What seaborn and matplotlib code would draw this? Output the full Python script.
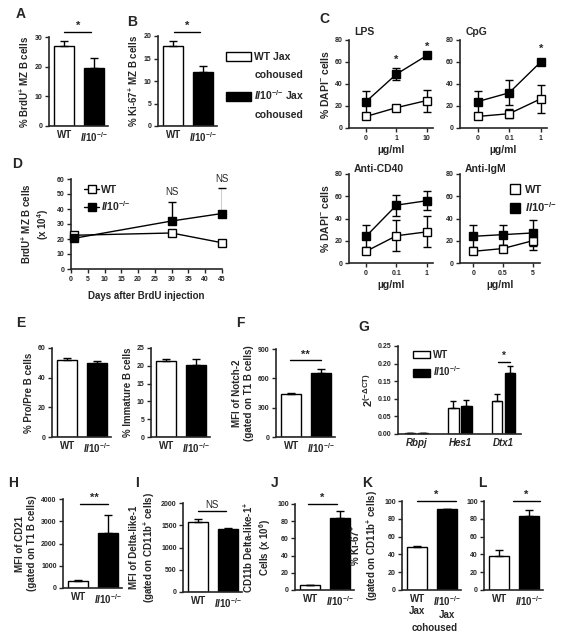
import seaborn as sns
import matplotlib.pyplot as plt
import numpy as np
import pandas as pd
from matplotlib.patches import Patch
from matplotlib.lines import Line2D
from matplotlib.ticker import FormatStrFormatter

# ---------------- data ----------------
IL = r"$\mathit{Il10}^{{-}/{-}}$"
two_groups = ["WT", IL]

brdu_mz = [27.0, 19.7]
brdu_mz_err = [1.5, 3.3]
ki67_mz = [17.8, 11.9]
ki67_mz_err = [1.2, 1.4]

dose_lps = ["0", "1", "10"]
dose_cpg = ["0", "0.1", "1"]
dose_cd40 = ["0", "0.1", "1"]
dose_igm = ["0", "0.5", "5"]
lps_wt, lps_wt_err = [10.5, 18.5, 25.0], [0.5, 2.0, 10.0]
lps_ko, lps_ko_err = [24.0, 49.0, 66.0], [10.0, 5.5, 1.0]
cpg_wt, cpg_wt_err = [10.5, 13.0, 26.5], [0.5, 4.0, 13.0]
cpg_ko, cpg_ko_err = [24.0, 32.0, 60.0], [10.0, 11.5, 1.5]
cd40_wt, cd40_wt_err = [10.5, 24.5, 28.0], [0.5, 14.0, 14.0]
cd40_ko, cd40_ko_err = [24.0, 52.0, 56.0], [10.0, 9.5, 8.5]
igm_wt, igm_wt_err = [10.5, 13.0, 20.0], [0.5, 3.0, 8.0]
igm_ko, igm_ko_err = [24.0, 25.5, 27.0], [10.0, 9.0, 12.0]

days = [1, 30, 45]
brdu_wt, brdu_wt_err = [22.5, 24.0, 17.5], [1.0, 1.0, 0.5]
brdu_ko, brdu_ko_err = [20.5, 32.0, 37.0], [1.0, 13.0, 17.0]

propre = [51.8, 50.0]
propre_err = [1.2, 1.5]
immature = [21.3, 20.2]
immature_err = [0.6, 1.6]
notch2 = [440, 655]
notch2_err = [12, 45]

genes = ["Rbpj", "Hes1", "Dtx1"]
gene_wt = [0.002, 0.075, 0.093]
gene_wt_err = [0.001, 0.020, 0.022]
gene_ko = [0.003, 0.079, 0.174]
gene_ko_err = [0.001, 0.019, 0.020]

cd21 = [320, 2450]
cd21_err = [30, 820]
dll1 = [1580, 1415]
dll1_err = [70, 25]
cd11b_dll1 = [5.5, 84.0]
cd11b_dll1_err = [0.5, 8.0]
ki67_jax = [48.5, 90.5]
ki67_jax_err = [1.0, 0.8]
ki67_cd11b = [38.0, 83.5]
ki67_cd11b_err = [6.5, 6.5]

# ---------------- style ----------------
sns.set_style("ticks")
plt.rcParams['font.family'] = ['Liberation Sans', 'DejaVu Sans']
plt.rcParams['font.weight'] = 'bold'
plt.rcParams['axes.labelweight'] = 'bold'
plt.rcParams['mathtext.fontset'] = 'custom'
plt.rcParams['mathtext.rm'] = 'Liberation Sans:bold'
plt.rcParams['mathtext.bf'] = 'Liberation Sans:bold'
plt.rcParams['mathtext.it'] = 'Liberation Sans:italic:bold'

W, H = 565, 641
fig = plt.figure(figsize=(W / 100, H / 100), dpi=100)

LAB = 7
TICK = 5


def add_ax(x0, y0, x1, y1):
    return fig.add_axes([x0 / W, 1 - y1 / H, (x1 - x0) / W, (y1 - y0) / H])


def style(ax, ymax, step):
    ax.set_ylim(0, ymax)
    ax.set_yticks(np.arange(0, ymax + step / 2, step))
    sns.despine(ax=ax)
    for s in ['left', 'bottom']:
        ax.spines[s].set_linewidth(1.2)
    ax.tick_params(axis='y', length=3, width=1, labelsize=TICK, pad=1.5)


def sig(ax, x0, x1, y, txt, weight='bold', size=8):
    ax.plot([x0, x1], [y, y], color='black', lw=1, clip_on=False)
    ax.annotate(txt, ((x0 + x1) / 2, y), xytext=(0, 0.5), textcoords='offset points',
                ha='center', va='bottom', fontsize=size, fontweight=weight,
                annotation_clip=False)


def bar_panel(x0, y0, y1, vals, errs, ymax, step, ylabel, cats=two_groups, star=None):
    ax = add_ax(x0, y0, x0 + 59, y1)
    sns.barplot(x=cats, y=vals, hue=cats, palette=['white', 'black'], edgecolor='black',
                linewidth=1, width=0.66, legend=False, errorbar=None, ax=ax)
    ax.errorbar(range(len(vals)), vals, yerr=[np.zeros(len(vals)), errs], fmt='none',
                ecolor='black', elinewidth=1, capsize=3, capthick=1)
    ax.set_xlim(-0.5, 1.45)
    style(ax, ymax, step)
    ax.tick_params(axis='x', length=0, labelsize=LAB, pad=3)
    ax.set_ylabel(ylabel, fontsize=LAB, labelpad=3)
    ax.set_xlabel('')
    if star:
        sig(ax, *star)
    return ax


def dose_panel(x0, y0, x1, y1, ticks, wt, wt_e, ko, ko_e, title, ylabel=None, stars=(), xlim=(-0.56, 2.2), tdy=2):
    ax = add_ax(x0, y0, x1, y1)
    x = np.arange(3)
    for y, e, fc in [(wt, wt_e, 'white'), (ko, ko_e, 'black')]:
        ax.errorbar(x, y, yerr=e, fmt='none', ecolor='black', elinewidth=1, capsize=3, zorder=2)
        sns.lineplot(x=x, y=y, ax=ax, color='black', lw=1, marker='s', markersize=6,
                     markerfacecolor=fc, markeredgecolor='black', markeredgewidth=1, zorder=3)
    for ln in ax.lines:
        ln.set_clip_on(False)
    ax.set_xlim(*xlim)
    style(ax, 80, 20)
    ax.set_xticks(x)
    ax.set_xticklabels(ticks)
    ax.tick_params(axis='x', length=3, width=1, labelsize=TICK, pad=2)
    ax.set_xlabel("µg/ml", fontsize=LAB + 0.5, labelpad=2)
    if ylabel:
        ax.set_ylabel(ylabel, fontsize=LAB + 0.5, labelpad=3)
    ax.annotate(title, (0.06, 1.0), xycoords='axes fraction', xytext=(0, tdy),
                textcoords='offset points', ha='left', va='bottom', fontsize=7.5)
    for xi, yi in stars:
        ax.text(xi, yi, '*', ha='center', va='center', fontsize=8)
    return ax


# ---------------- A / B ----------------
bar_panel(49, 37, 126, brdu_mz, brdu_mz_err, 30, 10, r"% BrdU$^{+}$ MZ B cells",
          star=(0.0, 0.9, 31.7, '*'))
bar_panel(158, 36, 126, ki67_mz, ki67_mz_err, 20, 5, r"% Ki-67$^{+}$ MZ B cells",
          star=(0.03, 0.9, 20.9, '*'))
blank = Patch(visible=False)
fig.legend(handles=[Patch(facecolor='white', edgecolor='black', lw=1), blank,
                    Patch(facecolor='black', edgecolor='black', lw=1), blank],
           labels=["WT Jax", "cohoused", IL + " Jax", "cohoused"],
           loc='upper left', bbox_to_anchor=(222 / W, 1 - 48 / H), frameon=False,
           fontsize=7.5, handlelength=2.4, handleheight=0.95, handletextpad=0.3,
           labelspacing=0.75, borderaxespad=0)

# ---------------- C ----------------
dap = r"% DAPI$^{-}$ cells"
dose_panel(349, 40, 433, 128, dose_lps, lps_wt, lps_wt_err, lps_ko, lps_ko_err, "LPS",
           ylabel=dap, stars=[(1, 62), (2, 74)])
dose_panel(460, 40, 547, 128, dose_cpg, cpg_wt, cpg_wt_err, cpg_ko, cpg_ko_err, "CpG",
           stars=[(2, 72)])
dose_panel(349, 174, 433, 263, dose_cd40, cd40_wt, cd40_wt_err, cd40_ko, cd40_ko_err,
           "Anti-CD40", ylabel=dap, tdy=0)
axm = dose_panel(460, 174, 540, 263, dose_igm, igm_wt, igm_wt_err, igm_ko, igm_ko_err,
                 "Anti-IgM", xlim=(-0.45, 2.25), tdy=0)
axm.legend(handles=[Line2D([], [], marker='s', ls='none', color='black', mfc='white', ms=7),
                    Line2D([], [], marker='s', ls='none', color='black', mfc='black', ms=7)],
           labels=["WT", IL], loc='upper left', bbox_to_anchor=(0.56, 0.93), frameon=False,
           fontsize=8, handlelength=1.0, handletextpad=0.4, labelspacing=0.5, borderaxespad=0)

# ---------------- D ----------------
axd = add_ax(71, 179, 222, 269)
for y, e, fc, lab in [(brdu_wt, brdu_wt_err, 'white', 'WT'), (brdu_ko, brdu_ko_err, 'black', IL)]:
    axd.errorbar(days, y, yerr=[np.zeros(3), e], fmt='none', ecolor='black', elinewidth=1, capsize=3, zorder=2)
    sns.lineplot(x=days, y=y, ax=axd, color='black', lw=1, marker='s', markersize=6,
                 markerfacecolor=fc, markeredgecolor='black', markeredgewidth=1, label=lab, zorder=3)
for ln in axd.lines:
    ln.set_clip_on(False)
axd.set_xlim(0, 45)
style(axd, 60, 10)
axd.set_xticks(np.arange(0, 46, 5))
axd.tick_params(axis='x', length=3, width=1, labelsize=TICK, pad=2)
axd.set_xlabel("Days after BrdU injection", fontsize=LAB, labelpad=6)
axd.set_ylabel("BrdU$^{+}$ MZ B cells\n(x 10$^{4}$)", fontsize=LAB, labelpad=4)
axd.legend(loc='upper left', bbox_to_anchor=(0.06, 0.98), frameon=False, fontsize=LAB + 0.5,
           handlelength=1.4, handletextpad=0.2, labelspacing=0.4, borderaxespad=0)
for xd, yd in [(30, 48), (45, 56.5)]:
    axd.text(xd, yd, "NS", ha='center', va='bottom', fontsize=7, fontweight='normal')

# ---------------- E / F ----------------
bar_panel(52, 348, 437, propre, propre_err, 60, 20, "% Pro/Pre B cells")
bar_panel(151, 348, 437, immature, immature_err, 25, 5, "% Immature B cells")
bar_panel(276, 349, 437, notch2, notch2_err, 900, 300, "MFI of Notch-2\n(gated on T1 B cells)",
          star=(-0.03, 1.0, 787, '**'))

# ---------------- G ----------------
gdf = pd.DataFrame({
    'gene': genes * 2,
    'geno': ['WT'] * 3 + [IL] * 3,
    'val': gene_wt + gene_ko,
    'err': gene_wt_err + gene_ko_err,
})
axg = add_ax(398, 346, 521, 434)
sns.barplot(data=gdf, x='gene', y='val', hue='geno', palette=['white', 'black'],
            edgecolor='black', linewidth=1, width=0.6, gap=0.2, errorbar=None, ax=axg)
for cont, geno in zip(axg.containers, ['WT', IL]):
    sub = gdf[gdf['geno'] == geno]
    xs = [b.get_x() + b.get_width() / 2 for b in cont]
    axg.errorbar(xs, sub['val'], yerr=[np.zeros(3), sub['err']], fmt='none', ecolor='black',
                 elinewidth=1, capsize=2.5, capthick=1)
axg.set_xlim(-0.42, 2.4)
style(axg, 0.25, 0.05)
axg.yaxis.set_major_formatter(FormatStrFormatter('%.2f'))
axg.tick_params(axis='x', length=0, labelsize=LAB, pad=3)
for t in axg.get_xticklabels():
    t.set_fontstyle('italic')
axg.set_xlabel('')
axg.set_ylabel(r"$2^{(-\Delta \mathrm{CT})}$", fontsize=LAB + 1, labelpad=2)
axg.legend(handles=[Patch(facecolor='white', edgecolor='black', lw=1),
                    Patch(facecolor='black', edgecolor='black', lw=1)],
           labels=['WT', IL], loc='upper left', bbox_to_anchor=(0.09, 1.0), frameon=False,
           fontsize=LAB, handlelength=1.8, handleheight=0.85, handletextpad=0.3,
           labelspacing=0.45, borderaxespad=0)
sig(axg, 1.88, 2.15, 0.2045, '*', size=7)

# ---------------- H - L ----------------
bar_panel(63, 499, 588, cd21, cd21_err, 4000, 1000, "MFI of CD21\n(gated on T1 B cells)",
          star=(0.07, 1.0, 3775, '**'))
axi = bar_panel(183, 503, 592, dll1, dll1_err, 2000, 500,
                "MFI of Delta-like-1\n(gated on CD11b$^{+}$ cells)")
sig(axi, 0.0, 0.93, 1820, 'NS', weight='normal', size=7)
bar_panel(295, 504, 590, cd11b_dll1, cd11b_dll1_err, 100, 20,
          "CD11b Delta-like-1$^{+}$\nCells (x 10$^{6}$)", star=(-0.07, 0.9, 100, '*'))
axk = bar_panel(402, 501, 590, ki67_jax, ki67_jax_err, 100, 20,
                "% Ki-67$^{+}$\n(gated on CD11b$^{+}$ cells)",
                cats=["WT\nJax", IL + "\nJax"], star=(0.0, 1.27, 100, '*'))
fig.text(435 / W, 1 - 628 / H, "cohoused", ha='center', va='center', fontsize=LAB)
bar_panel(484, 501, 590, ki67_cd11b, ki67_cd11b_err, 100, 20, "",
          star=(0.45, 1.35, 100, '*'))

# ---------------- panel letters ----------------
for lab, px, py in [('A', 21, 14), ('B', 132, 22), ('C', 324, 19), ('D', 17, 164),
                    ('E', 21, 323), ('F', 240, 323), ('G', 364, 327), ('H', 13, 483),
                    ('I', 137, 483), ('J', 275, 483), ('K', 367, 483), ('L', 482, 483)]:
    fig.text(px / W, 1 - py / H, lab, ha='center', va='center', fontsize=10, fontweight='bold')

fig.savefig('out.png', dpi=100)
